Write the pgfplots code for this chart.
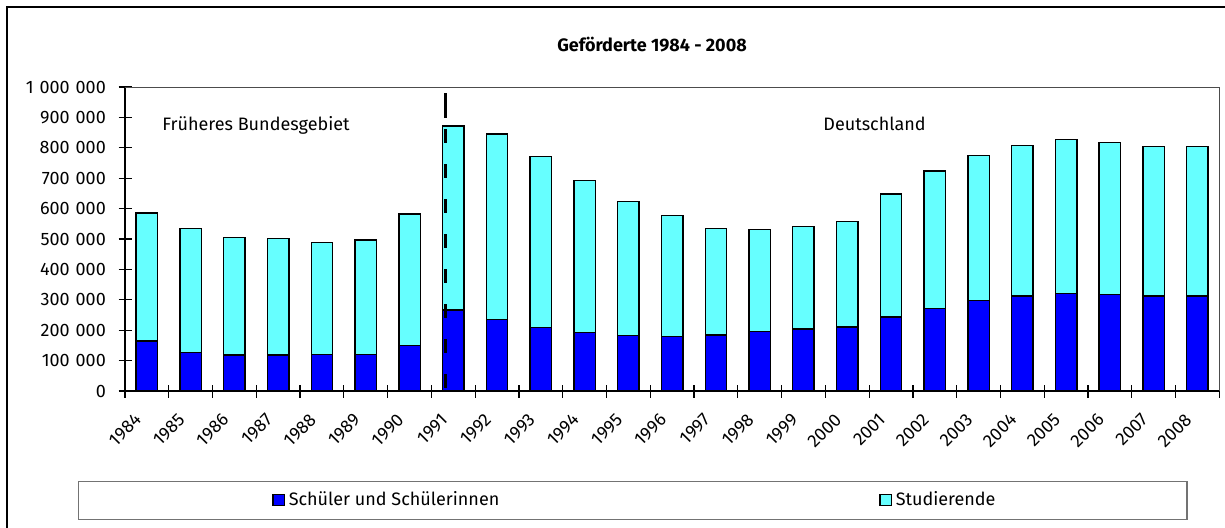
\documentclass[border=0pt]{standalone}
\usepackage{fontspec}
\setmainfont{Fira Sans}
\usepackage{pgfplots}
\pgfplotsset{compat=1.18}
\definecolor{schueler}{RGB}{0,0,255}
\definecolor{studis}{RGB}{102,255,255}
\newcommand{\chartfont}{\fontsize{9}{10.8}\selectfont}

\begin{document}
\begin{tikzpicture}[font=\chartfont]
\useasboundingbox (0,0) rectangle (612.5pt,263.5pt);
% outer frame (only left and top visible)
\draw[line width=0.85pt] (3.5pt,-2pt) -- (3.5pt,260pt) -- (616pt,260pt);

\begin{axis}[
  at={(62.5pt,68pt)}, anchor=south west,
  scale only axis, width=547.15pt, height=152pt,
  ybar stacked, bar width=10.7pt,
  xmin=-0.5, xmax=24.5, ymin=0, ymax=1000000,
  enlargelimits=false,
  axis lines*=left,
  axis line style={-, line width=1.1pt},
  tick align=center,
  major tick length=6.5pt,
  minor tick length=6.5pt,
  every tick/.style={black, line width=0.6pt},
  every minor tick/.style={black, line width=0.6pt},
  xtick={0,1,...,24},
  xticklabels={1984,1985,1986,1987,1988,1989,1990,1991,1992,1993,1994,1995,1996,1997,1998,1999,2000,2001,2002,2003,2004,2005,2006,2007,2008},
  major x tick style={draw=none},
  minor xtick={-0.5,0.5,...,24.5},
  xticklabel style={rotate=45, anchor=north east, xshift=-6.5pt, yshift=3pt, font=\chartfont},
  ytick={0,100000,...,1000000},
  scaled y ticks=false,
  yticklabel style={font=\chartfont, xshift=-2.8pt,
    /pgf/number format/fixed,
    /pgf/number format/1000 sep={\,\,},
    /pgf/number format/assume math mode=true},
  legend columns=2,
  legend style={at={(0.1343,-0.3586)}, anchor=west, draw=none, fill=none,
    inner sep=0pt, font=\chartfont,
    /tikz/every even column/.append style={column sep=188pt}},
  legend image code/.code={\draw[#1, line width=0.6pt] (0pt,-2.8pt) rectangle (5.6pt,2.8pt);},
]
\addplot[fill=schueler, draw=black, line width=0.7pt] coordinates {
  (0,164000) (1,126000) (2,118000) (3,118000) (4,120000) (5,121000) (6,149000)
  (7,266000) (8,236000) (9,208000) (10,193000) (11,182000) (12,180000)
  (13,184000) (14,195000) (15,204000) (16,211000) (17,243000) (18,272000)
  (19,297000) (20,312000) (21,321000) (22,318000) (23,312000) (24,312000)
};
\addplot[fill=studis, draw=black, line width=0.7pt] coordinates {
  (0,422000) (1,408000) (2,387000) (3,383000) (4,369000) (5,376000) (6,433000)
  (7,606000) (8,609000) (9,563000) (10,499000) (11,442000) (12,397000)
  (13,350000) (14,336000) (15,337000) (16,346000) (17,405000) (18,452000)
  (19,477000) (20,496000) (21,506000) (22,499000) (23,492000) (24,492000)
};
\legend{Schüler und Schülerinnen, Studierende}
% anchor points for the border line between the old federal territory and Germany
\coordinate (bt) at (axis cs:6.83,980000);
\coordinate (bm) at (axis cs:6.83,898000);
\coordinate (bd) at (axis cs:6.83,861800);
\coordinate (bb) at (axis cs:6.83,9900);
\coordinate (po) at (rel axis cs:0,0);
\coordinate (pa) at (rel axis cs:0,1);
\coordinate (pb) at (rel axis cs:1,1);
\coordinate (pc) at (rel axis cs:1,0);
\end{axis}

% plot area border and category axis line
\draw[black!70, line width=0.5pt] (pa) -- (pb) -- (pc);
\draw[line width=1.1pt] (po) -- (pc);
\draw[line width=1.4pt] (bt) -- (bm);
\draw[line width=1.4pt, dash pattern=on 7pt off 10.5pt] (bd) -- (bb);

\node[font=\chartfont\bfseries, inner sep=0pt] at (326pt,241pt) {Geförderte 1984 - 2008};
\node[anchor=west, inner sep=0pt] at (81pt,201pt) {Früheres Bundesgebiet};
\node[anchor=west, inner sep=0pt] at (411.5pt,201.5pt) {Deutschland};
\draw[black!55, line width=0.6pt] (39.35pt,3.85pt) rectangle (593.5pt,22.65pt);
\end{tikzpicture}
\end{document}
